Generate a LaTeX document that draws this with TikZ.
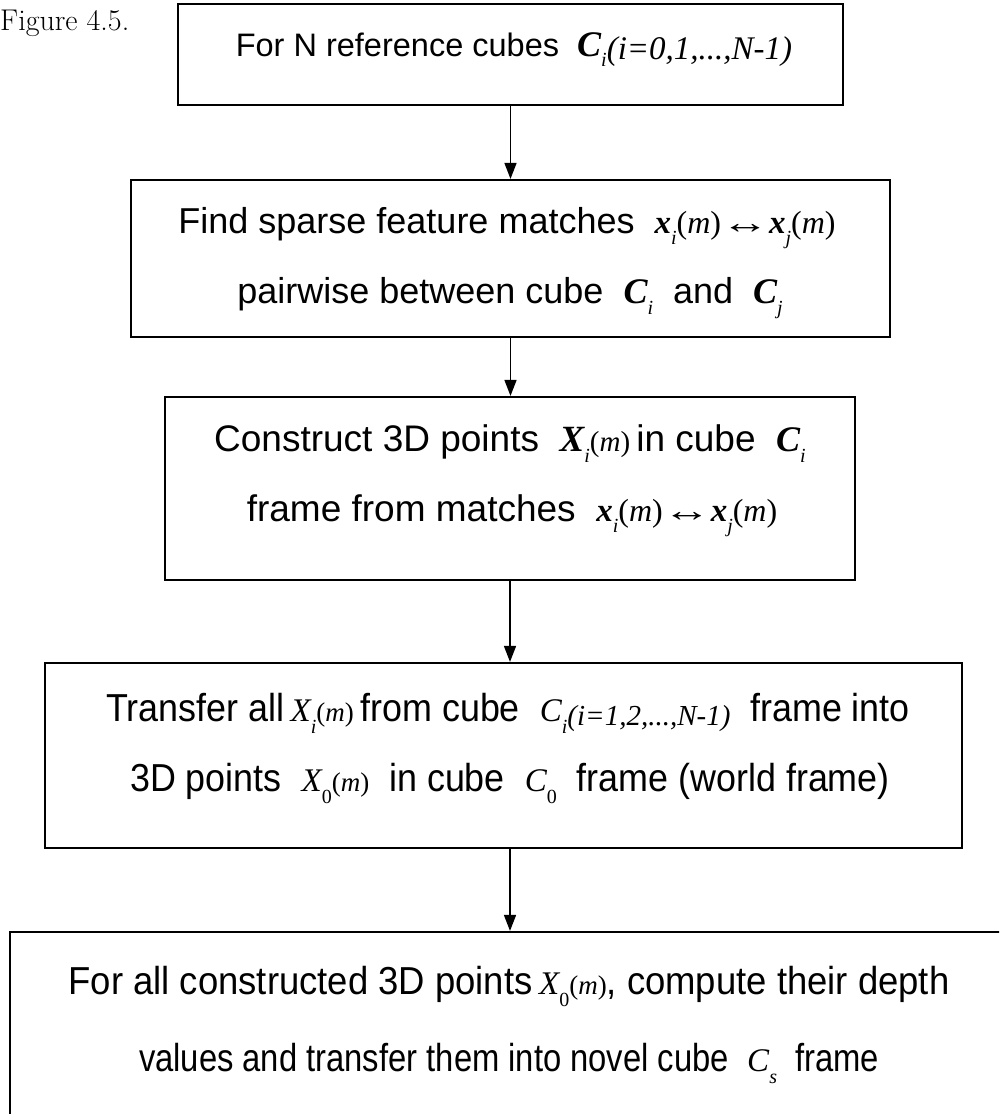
\documentclass[tikz,border=0pt]{standalone}
\usepackage{fontspec}
\newfontfamily\arial{Liberation Sans}
\newfontfamily\arialn[FakeStretch=0.92]{Liberation Sans}
\newfontfamily\arialna[FakeStretch=0.935]{Liberation Sans}
\newfontfamily\arialnb[FakeStretch=0.84]{Liberation Sans}
\newfontfamily\tnr{Liberation Serif}
\usetikzlibrary{arrows.meta}
\newcommand{\setm}[1]{\fontsize{#1}{#1}\selectfont\tnr}
% subscripts
\newcommand{\sbi}[1]{\raisebox{-0.32em}{\setm{20}\itshape #1}}
\newcommand{\sbu}[1]{\raisebox{-0.32em}{\setm{20}#1}}
% bold x_i(m)
\newcommand{\xm}[1]{{\setm{33}\bfseries\itshape x}\sbi{#1}{\setm{32}(\textit{m})}}
\newcommand{\lra}{\scalebox{1.5}[1]{\setm{32}↔}}
\newcommand{\Xbm}[1]{{\setm{37}\bfseries\itshape X}\sbi{#1}{\setm{29}(\textit{m})}}
\newcommand{\Xnm}{{\setm{33}\itshape X}\sbu{0}{\setm{27}(\textit{m})}}
\newcommand{\Xim}{{\setm{33}\itshape X}\sbi{i}{\setm{27}(\textit{m})}}
\newcommand{\Cb}[1]{{\setm{36}\bfseries\itshape C}\sbi{#1}}
\newcommand{\Cn}[1]{{\setm{33}\itshape C}\sbi{#1}}
\newcommand{\Cz}{{\setm{33}\itshape C}\sbu{0}}
\newcommand{\rng}[2]{\raisebox{-0.12em}{\setm{#1}\itshape #2}}
\begin{document}
\begin{tikzpicture}[x=1pt,y=-1pt,
  box/.style={draw,line width=2.2pt,inner sep=0pt},
  txta/.style={anchor=base,inner sep=0pt,font=\arial\fontsize{32.5}{32.5}\selectfont},
  txt/.style={anchor=base,inner sep=0pt,font=\arial\fontsize{36}{36}\selectfont},
  txtc/.style={anchor=base,inner sep=0pt,font=\arial\fontsize{37}{37}\selectfont},
  txtn/.style={anchor=base,inner sep=0pt,font=\arialn\fontsize{39}{39}\selectfont},
  txtna/.style={anchor=base,inner sep=0pt,font=\arialna\fontsize{39}{39}\selectfont},
  txtnb/.style={anchor=base,inner sep=0pt,font=\arialnb\fontsize{39}{39}\selectfont},
  arr/.style={line width=1.6pt,-{Triangle[length=16pt,width=12pt]}}]
\useasboundingbox (0,0) rectangle (999,1114);
\clip (0,0) rectangle (999,1114);
\node[anchor=base west,inner sep=0pt,font=\fontsize{30}{30}\selectfont] (fig) at (0,30) {Figure 4.5.};
\node[box,minimum width=665pt,minimum height=101pt] (b1) at (510.5,54.5) {};
\node[box,minimum width=759pt,minimum height=157pt] (b2) at (510.5,258.5) {};
\node[box,minimum width=690pt,minimum height=183pt] (b3) at (510,488.5) {};
\node[box,minimum width=917pt,minimum height=185pt] (b4) at (503.5,755.5) {};
\node[box,minimum width=1000pt,minimum height=208pt] (b5) at (510,1036) {};
% texts
\node[txta] (t1) at (514,56) {For N reference cubes\ \ \Cb{i}\rng{33}{(i=0,1,...,N-1)}};
\node[txt] (t2a) at (507,233) {Find sparse feature matches\ \ \xm{i}\lra\xm{j}};
\node[txt] (t2b) at (510,303) {pairwise between cube\ \ \Cb{i}\ \ and\ \ \Cb{j}};
\node[txtc] (t3a) at (510,451) {Construct 3D points\ \ \Xbm{i}\,in cube\ \ \Cb{i}};
\node[txtc] (t3b) at (512,521) {frame from matches\ \ \xm{i}\lra\xm{j}};
\node[txtn] (t4a) at (508,721) {Transfer all\,\Xim\,from cube\ \ \Cn{i}\rng{29}{(i=1,2,...,N-1)}\ \ frame into};
\node[txtn] (t4b) at (510,791) {3D points\ \ \Xnm\ \ in cube\ \ \Cz\ \ frame (world frame)};
\node[txtna] (t5a) at (509,994) {For all constructed 3D points\,\Xnm, compute their depth};
\node[txtnb] (t5b) at (509,1071) {values and transfer them into novel cube\ \ \Cn{s}\ \ frame};
% connectors
\draw[arr] (b1.south) -- (b1.south |- b2.north);
\draw[arr] (b2.south) -- (b2.south |- b3.north);
\draw[arr] (b3.south) -- (b3.south |- b4.north);
\draw[arr] (b3.south |- b4.south) -- (b3.south |- b5.north);
\end{tikzpicture}
\end{document}
